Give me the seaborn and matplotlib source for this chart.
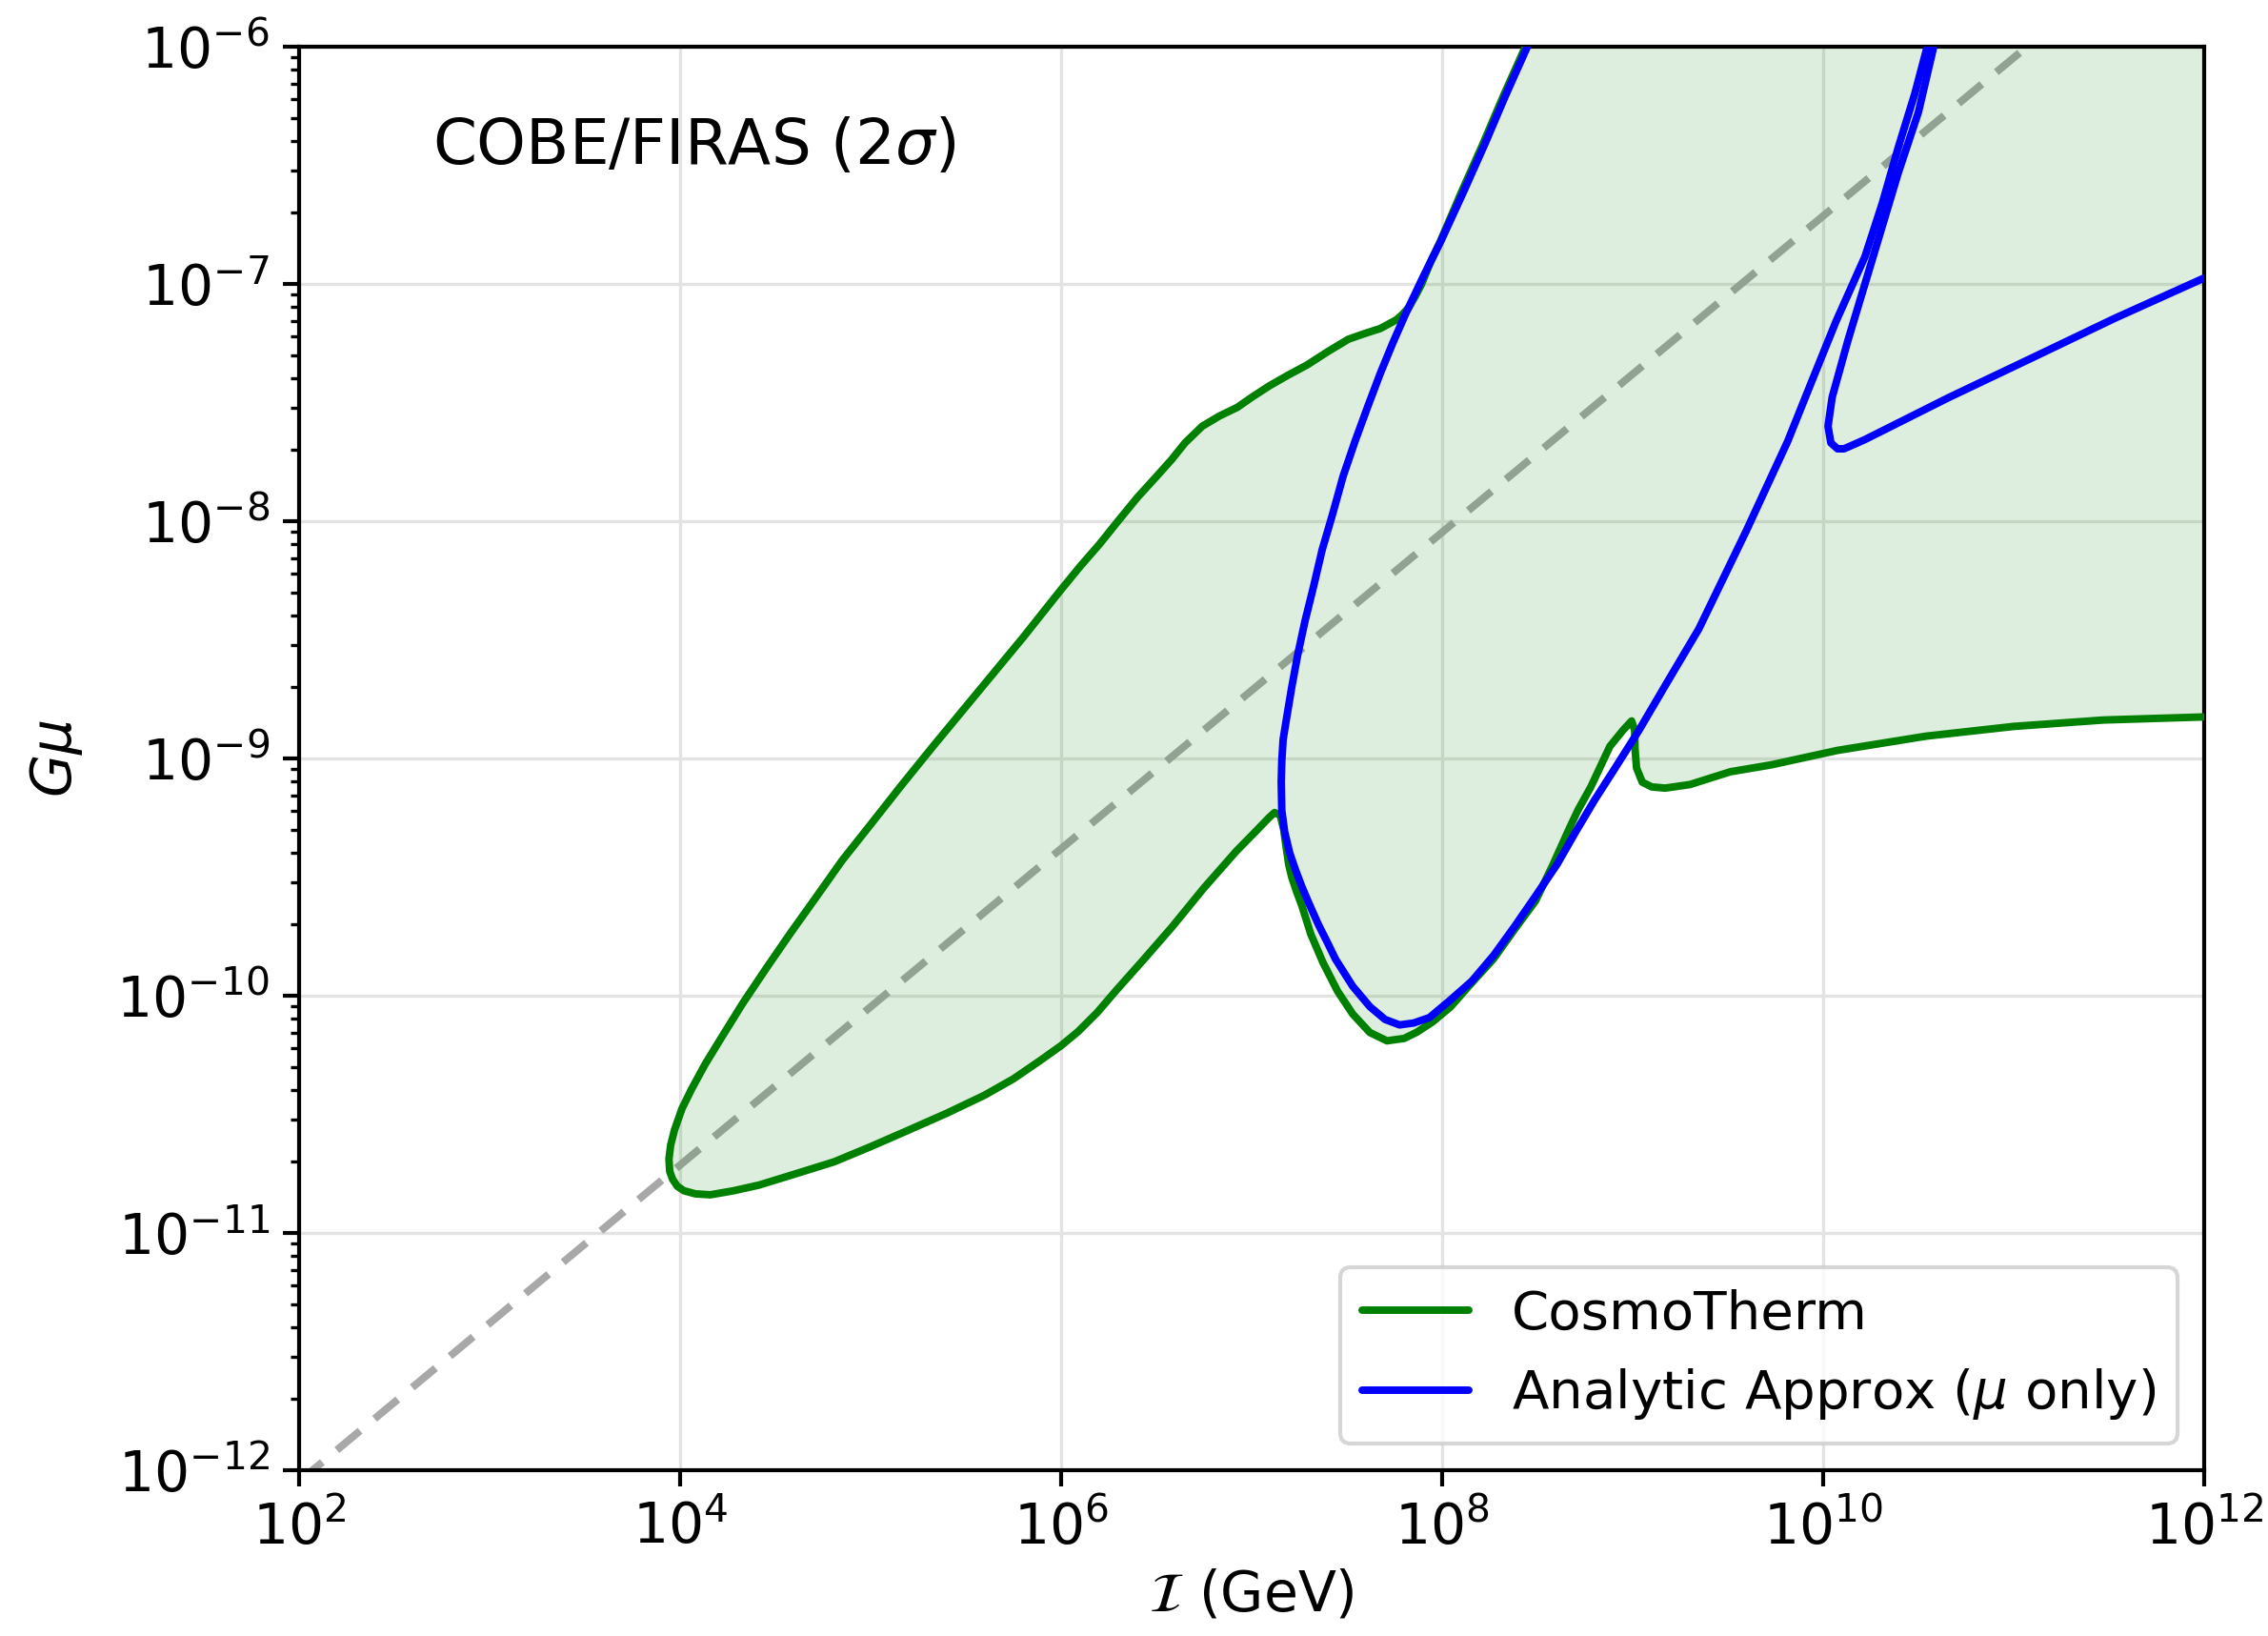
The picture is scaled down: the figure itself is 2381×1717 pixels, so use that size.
import numpy as np
import pandas as pd
import matplotlib
matplotlib.use("Agg")
import matplotlib.pyplot as plt
import matplotlib.ticker as mticker
import seaborn as sns

# ---------------- data (log10 values) ----------------
# CosmoTherm 2-sigma contour (green), ordered from the top edge around to the right edge
cosmo_logI = [8.437, 8.32, 8.215, 8.10, 7.99, 7.94, 7.892, 7.86, 7.825, 7.79, 7.758, 7.675,
              7.59, 7.508, 7.40, 7.292, 7.19, 7.092, 7.00, 6.925, 6.83, 6.74, 6.65, 6.58,
              6.502, 6.40, 6.30, 6.20, 6.10, 5.99, 5.80, 5.596, 5.46, 5.32, 5.16, 5.005,
              4.85, 4.709, 4.58, 4.453, 4.33, 4.217, 4.13, 4.059, 4.01, 3.97, 3.95, 3.941,
              3.945, 3.96, 3.985, 4.02, 4.08, 4.158, 4.28, 4.414, 4.60, 4.808, 5.00, 5.20,
              5.40, 5.596, 5.75, 5.89, 6.00, 6.089, 6.19, 6.286, 6.43, 6.58, 6.75, 6.92,
              7.03, 7.09, 7.12, 7.15, 7.168, 7.18, 7.195, 7.21, 7.235, 7.263, 7.31, 7.374,
              7.45, 7.53, 7.62, 7.71, 7.80, 7.866, 7.95, 8.045, 8.15, 8.268, 8.38, 8.49,
              8.58, 8.67, 8.713, 8.78, 8.88, 8.95, 8.994, 9.01, 9.012, 9.02, 9.05, 9.10,
              9.17, 9.30, 9.513, 9.727, 10.075, 10.54, 11.00, 11.47, 12.00]
cosmo_logG = [-6.00, -6.21, -6.408, -6.615, -6.821, -6.905, -7.00, -7.05, -7.099, -7.13, -7.152, -7.188,
              -7.21, -7.233, -7.285, -7.341, -7.385, -7.43, -7.478, -7.52, -7.557, -7.60, -7.67, -7.74,
              -7.81, -7.90, -7.998, -8.098, -8.19, -8.298, -8.49, -8.688, -8.82, -8.956, -9.115, -9.273,
              -9.43, -9.59, -9.735, -9.883, -10.03, -10.176, -10.29, -10.395, -10.475, -10.566, -10.63, -10.688,
              -10.74, -10.773, -10.803, -10.822, -10.835, -10.839, -10.822, -10.798, -10.752, -10.70, -10.636, -10.566,
              -10.495, -10.42, -10.35, -10.273, -10.21, -10.151, -10.07, -9.98, -9.85, -9.712, -9.545, -9.39,
              -9.30, -9.25, -9.228, -9.24, -9.30, -9.37, -9.45, -9.50, -9.56, -9.62, -9.74, -9.86,
              -9.98, -10.077, -10.155, -10.19, -10.18, -10.154, -10.11, -10.046, -9.95, -9.846, -9.72, -9.60,
              -9.45, -9.29, -9.217, -9.12, -8.949, -8.88, -8.842, -8.88, -8.96, -9.04, -9.10, -9.12,
              -9.125, -9.11, -9.056, -9.027, -8.966, -8.906, -8.865, -8.838, -8.825]

# Analytic approximation (blue), first branch: top edge -> loop -> top edge
analytic1_logI = [8.447, 8.33, 8.225, 8.11, 7.992, 7.90, 7.808, 7.74, 7.675, 7.61, 7.542, 7.48,
                  7.425, 7.37, 7.325, 7.28, 7.242, 7.21, 7.183, 7.165, 7.158, 7.155, 7.158, 7.173,
                  7.20, 7.23, 7.263, 7.30, 7.35, 7.40, 7.44, 7.53, 7.62, 7.70, 7.776, 7.85,
                  7.933, 8.04, 8.156, 8.27, 8.38, 8.49, 8.603, 8.70, 8.80, 8.90, 9.03, 9.18,
                  9.347, 9.47, 9.597, 9.70, 9.813, 9.94, 10.066, 10.219, 10.31, 10.393, 10.48, 10.546]
analytic1_logG = [-6.00, -6.21, -6.408, -6.615, -6.821, -6.97, -7.126, -7.25, -7.377, -7.515, -7.664, -7.81,
                  -7.969, -8.12, -8.274, -8.42, -8.561, -8.70, -8.83, -8.92, -9.009, -9.10, -9.22, -9.31,
                  -9.40, -9.47, -9.54, -9.61, -9.70, -9.78, -9.846, -9.96, -10.046, -10.10, -10.123, -10.115,
                  -10.092, -10.02, -9.938, -9.83, -9.708, -9.58, -9.446, -9.31, -9.175, -9.05, -8.885, -8.68,
                  -8.454, -8.25, -8.039, -7.86, -7.664, -7.41, -7.16, -6.885, -6.66, -6.427, -6.20, -6.00]
# second branch: top edge -> cusp -> right edge
analytic2_logI = [10.58, 10.50, 10.393, 10.262, 10.13, 10.047, 10.025, 10.04, 10.075, 10.109, 10.18,
                  10.219, 10.656, 11.093, 11.53, 12.00]
analytic2_logG = [-6.00, -6.275, -6.534, -6.885, -7.237, -7.477, -7.60, -7.67, -7.695, -7.695, -7.67,
                  -7.656, -7.48, -7.313, -7.145, -6.975]

# dashed reference line  G mu ~ I^(2/3)
ref_I = [1e2, 1e12]
ref_Gmu = [8.98e-13, 4.17e-6]

x_limits = [1e2, 1e12]
y_limits = [1e-12, 1e-6]
x_ticks = [1e2, 1e4, 1e6, 1e8, 1e10, 1e12]

label_cosmo = "CosmoTherm"
label_analytic = r"Analytic Approx ($\mu$ only)"
annotation = r"COBE/FIRAS (2$\sigma$)"

# ---------------- build frames ----------------
cosmo = pd.DataFrame({"I": 10.0 ** np.array(cosmo_logI), "Gmu": 10.0 ** np.array(cosmo_logG)})
an1 = pd.DataFrame({"I": 10.0 ** np.array(analytic1_logI), "Gmu": 10.0 ** np.array(analytic1_logG)})
an2 = pd.DataFrame({"I": 10.0 ** np.array(analytic2_logI), "Gmu": 10.0 ** np.array(analytic2_logG)})
ref = pd.DataFrame({"I": ref_I, "Gmu": ref_Gmu})

# ---------------- style ----------------
sns.set_style("ticks")
plt.rcParams["font.family"] = ["DejaVu Sans"]
plt.rcParams["mathtext.fontset"] = "dejavusans"
for key in ["text.color", "axes.labelcolor", "xtick.color", "ytick.color", "axes.edgecolor"]:
    plt.rcParams[key] = "black"

fig = plt.figure(figsize=(2381 / 300, 1717 / 300), dpi=300)
ax = fig.add_axes([0.1319, 0.1013, 0.8400, 0.8702])

ax.set_xscale("log")
ax.set_yscale("log")

ax.grid(True, which="major", color="#e3e3e3", linewidth=0.8, zorder=0)
ax.set_axisbelow(True)

# dashed reference line
sns.lineplot(data=ref, x="I", y="Gmu", ax=ax, color="#a8a8a8", linewidth=1.9,
             linestyle=(0, (4, 2.5)), sort=False, estimator=None, zorder=1, legend=False)

# filled excluded region (contour closed through the top-right corner of the axes)
fill_x = list(cosmo["I"]) + [x_limits[1], x_limits[1]]
fill_y = list(cosmo["Gmu"]) + [y_limits[1], y_limits[1]]
ax.fill(fill_x, fill_y, color="green", alpha=0.13, linewidth=0, zorder=2)

sns.lineplot(data=cosmo, x="I", y="Gmu", ax=ax, color="green", linewidth=1.9,
             sort=False, estimator=None, zorder=3, label=label_cosmo)
sns.lineplot(data=an1, x="I", y="Gmu", ax=ax, color="blue", linewidth=1.9,
             sort=False, estimator=None, zorder=4, label=label_analytic)
sns.lineplot(data=an2, x="I", y="Gmu", ax=ax, color="blue", linewidth=1.9,
             sort=False, estimator=None, zorder=4, legend=False)

ax.set_xlim(*x_limits)
ax.set_ylim(*y_limits)
ax.xaxis.set_major_locator(mticker.FixedLocator(x_ticks))
ax.xaxis.set_minor_locator(mticker.NullLocator())
ax.yaxis.set_major_locator(mticker.LogLocator(base=10, numticks=20))
ax.yaxis.set_minor_locator(mticker.LogLocator(base=10, subs=np.arange(2, 10), numticks=20))
ax.xaxis.set_major_formatter(mticker.LogFormatterSciNotation())
ax.yaxis.set_major_formatter(mticker.LogFormatterSciNotation())

ax.tick_params(axis="both", which="major", labelsize=14, length=4, width=1.0, direction="out")
ax.tick_params(axis="y", which="minor", length=2.2, width=0.8, direction="out")
for sp in ax.spines.values():
    sp.set_visible(True)
    sp.set_linewidth(1.0)
    sp.set_color("black")

ax.set_xlabel(r"$\mathcal{I}$ (GeV)", fontsize=14, labelpad=3)
ax.set_ylabel(r"$G\mu$", fontsize=14, labelpad=8)

ax.text(0.07, 0.93, annotation, transform=ax.transAxes, fontsize=15.8,
        ha="left", va="center", zorder=6)

leg = ax.legend(loc="lower right", fontsize=13.5, frameon=True, framealpha=0.8,
                edgecolor="#cccccc", fancybox=True, borderaxespad=0.5)
for line in leg.get_lines():
    line.set_linewidth(1.9)

fig.savefig("out.png", dpi=300)
